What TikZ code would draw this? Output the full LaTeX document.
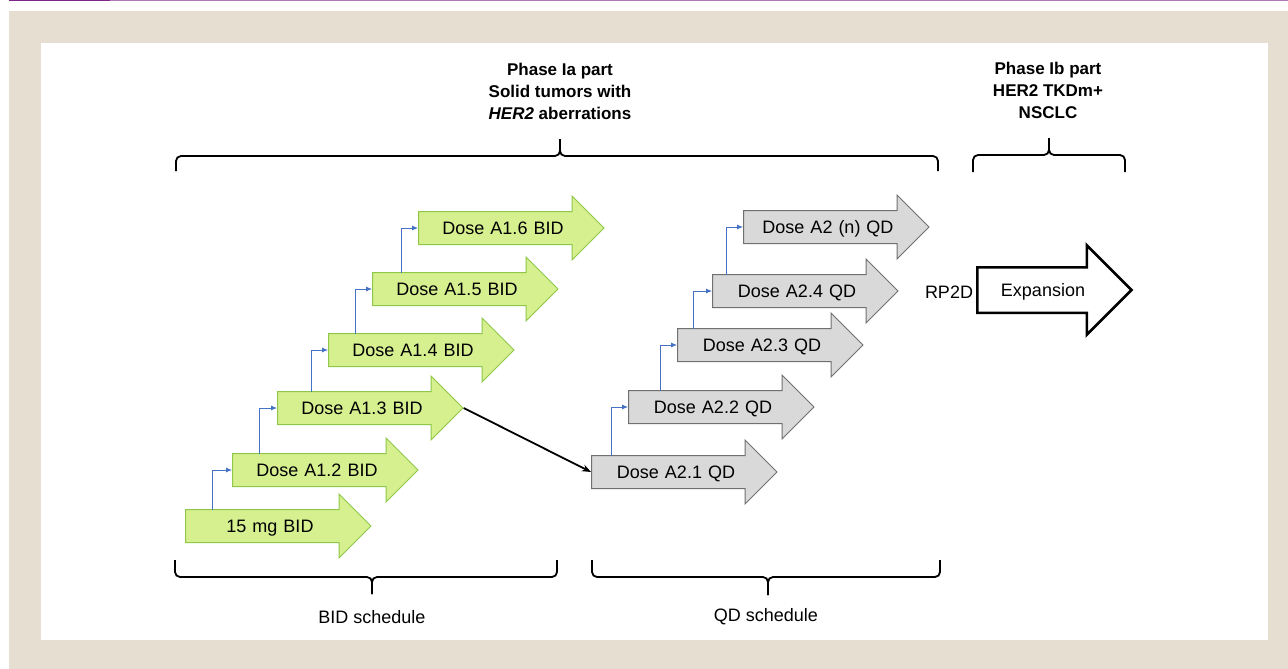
\documentclass[tikz,border=0pt]{standalone}
\usepackage{fontspec}
\setmainfont{Liberation Sans}
\usetikzlibrary{shapes.arrows,arrows.meta,calc}
\definecolor{pagebeige}{RGB}{229,222,209}
\definecolor{topline}{RGB}{125,38,135}
\definecolor{toplinelight}{RGB}{176,120,184}
\definecolor{bidfill}{RGB}{214,240,144}
\definecolor{bidline}{RGB}{143,200,72}
\definecolor{qdfill}{RGB}{217,217,217}
\definecolor{qdline}{RGB}{112,112,112}
\definecolor{linkblue}{RGB}{68,114,196}
\tikzset{
  dose/.style={single arrow, single arrow head extend=15.5pt, text width=164pt, align=center,
    inner xsep=2pt, inner ysep=9.5pt, text height=13pt, text depth=0pt,
    font=\fontsize{18}{22}\selectfont, line width=1pt},
  bid/.style={dose, fill=bidfill, draw=bidline},
  qd/.style={dose, fill=qdfill, draw=qdline},
  link/.style={draw=linkblue, line width=0.8pt, -{Latex[length=6pt,width=5pt]}},
  bracket/.style={line width=1.8pt, rounded corners=5pt},
  plaintext/.style={font=\fontsize{18}{22}\selectfont, align=center},
  phasehead/.style={font=\bfseries\fontsize{17}{22}\selectfont, align=center}
}
\begin{document}
\begin{tikzpicture}[x=1pt,y=-1pt]
\useasboundingbox (0,0) rectangle (1288,669);
\fill[pagebeige] (9,11) rectangle (1288,669);
\fill[white] (41,43) rectangle (1268,640);
\fill[topline] (9,0) rectangle (110,1.5);
\fill[toplinelight] (110,0) rectangle (1288,1.5);

\node[phasehead] (ph1) at (560,91) {Phase Ia part\\Solid tumors with\\\textit{HER2} aberrations};
\node[phasehead] (ph2) at (1048,90) {Phase Ib part\\HER2 TKDm+\\NSCLC};

\draw[bracket] (176,171) -- (176,156) -- (560,156) -- (560,139);
\draw[bracket] (938,171) -- (938,156) -- (560,156) -- (560,139);
\draw[bracket] (973,172) -- (973,155) -- (1049,155) -- (1049,138);
\draw[bracket] (1125,172) -- (1125,155) -- (1049,155) -- (1049,138);

\node[bid] (g0) at (270,526) {15 mg BID};
\node[bid] (g1) at (317,470) {Dose A1.2 BID};
\node[bid] (g2) at (362,408) {Dose A1.3 BID};
\node[bid] (g3) at (413,350) {Dose A1.4 BID};
\node[bid] (g4) at (457,289) {Dose A1.5 BID};
\node[bid] (g5) at (503,228) {Dose A1.6 BID};

\node[qd] (q1) at (676,472) {Dose A2.1 QD};
\node[qd] (q2) at (713,407) {Dose A2.2 QD};
\node[qd] (q3) at (762,345) {Dose A2.3 QD};
\node[qd] (q4) at (797,291) {Dose A2.4 QD};
\node[qd] (q5) at (828,227) {Dose A2 (n) QD};

\node[plaintext] (rp2d) at (949,292) {RP2D};
\node[dose, fill=white, draw=black, line width=2.5pt, single arrow head extend=22pt,
  text width=125pt, inner ysep=15pt] (exp) at (1043,290) {Expansion};

\foreach \a/\b/\dx in {g0/g1/27,g1/g2/27,g2/g3/34,g3/g4/27,g4/g5/29,q1/q2/20,q2/q3/32,q3/q4/16,q4/q5/14}
  \draw[link] ($(\a.west)+(\dx,-16)$) |- (\b.west);

\draw[line width=1.8pt,-{Stealth[length=9pt,width=7pt]}] (g2.tip) -- (q1.west);

\draw[bracket] (175,560) -- (175,577) -- (372,577) -- (372,594);
\draw[bracket] (557,560) -- (557,577) -- (372,577) -- (372,594);
\draw[bracket] (592,560) -- (592,577) -- (768,577) -- (768,595);
\draw[bracket] (940,560) -- (940,577) -- (768,577) -- (768,595);

\node[plaintext] (bidlab) at (372,617) {BID schedule};
\node[plaintext] (qdlab) at (766,617) {QD schedule};
\end{tikzpicture}
\end{document}
